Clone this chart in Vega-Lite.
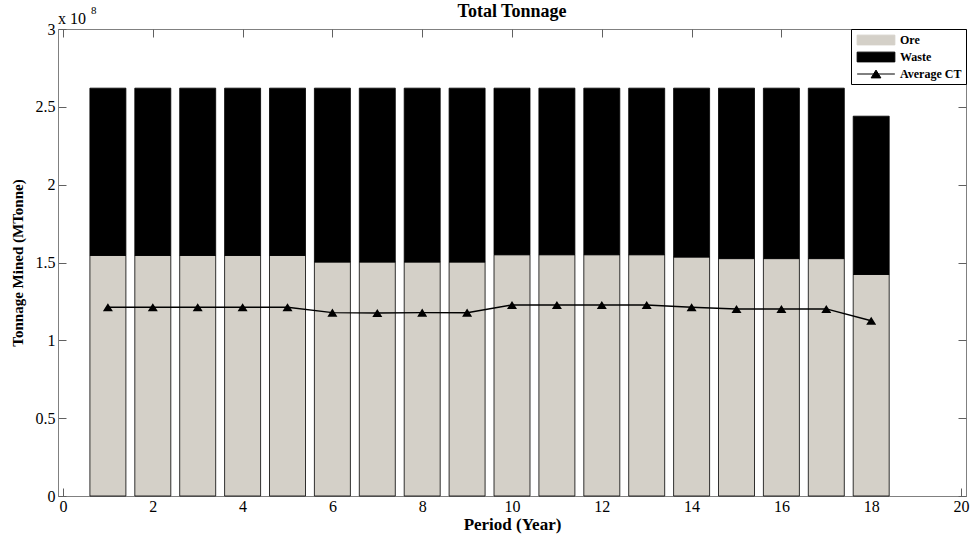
{
  "$schema": "https://vega.github.io/schema/vega-lite/v6.json",
  "width": 908,
  "height": 467,
  "autosize": "none",
  "padding": {"left": 58, "top": 29, "right": 11, "bottom": 41},
  "background": "white",
  "config": {
    "view": {"stroke": "#808080", "strokeWidth": 1},
    "axis": {"labelFont": "Times New Roman", "labelFontSize": 16, "labelColor": "black", "titleFont": "Times New Roman", "titleFontSize": 17, "titleFontWeight": "bold", "titleColor": "black", "domainColor": "#808080", "tickColor": "#606060", "grid": false},
    "legend": {"title": null, "orient": "top-right", "offset": 0, "direction": "vertical", "padding": 4, "strokeColor": "black", "fillColor": "white", "cornerRadius": 0,
               "labelFont": "Times New Roman", "labelFontWeight": "bold", "labelFontSize": 12, "labelColor": "black", "rowPadding": 3, "symbolSize": 169, "symbolOffset": 14, "labelOffset": 17, "symbolStrokeWidth": 1}
  },
  "resolve": {"axis": {"x": "independent", "y": "independent"}},
  "datasets": {
    "bars": [
      {"period": 1, "type": "Ore", "tonnage": 154500000},
      {"period": 1, "type": "Waste", "tonnage": 107500000},
      {"period": 2, "type": "Ore", "tonnage": 154500000},
      {"period": 2, "type": "Waste", "tonnage": 107500000},
      {"period": 3, "type": "Ore", "tonnage": 154500000},
      {"period": 3, "type": "Waste", "tonnage": 107500000},
      {"period": 4, "type": "Ore", "tonnage": 154500000},
      {"period": 4, "type": "Waste", "tonnage": 107500000},
      {"period": 5, "type": "Ore", "tonnage": 154500000},
      {"period": 5, "type": "Waste", "tonnage": 107500000},
      {"period": 6, "type": "Ore", "tonnage": 150300000},
      {"period": 6, "type": "Waste", "tonnage": 111700000},
      {"period": 7, "type": "Ore", "tonnage": 150300000},
      {"period": 7, "type": "Waste", "tonnage": 111700000},
      {"period": 8, "type": "Ore", "tonnage": 150300000},
      {"period": 8, "type": "Waste", "tonnage": 111700000},
      {"period": 9, "type": "Ore", "tonnage": 150300000},
      {"period": 9, "type": "Waste", "tonnage": 111700000},
      {"period": 10, "type": "Ore", "tonnage": 155000000},
      {"period": 10, "type": "Waste", "tonnage": 107000000},
      {"period": 11, "type": "Ore", "tonnage": 155000000},
      {"period": 11, "type": "Waste", "tonnage": 107000000},
      {"period": 12, "type": "Ore", "tonnage": 155000000},
      {"period": 12, "type": "Waste", "tonnage": 107000000},
      {"period": 13, "type": "Ore", "tonnage": 155000000},
      {"period": 13, "type": "Waste", "tonnage": 107000000},
      {"period": 14, "type": "Ore", "tonnage": 153500000},
      {"period": 14, "type": "Waste", "tonnage": 108500000},
      {"period": 15, "type": "Ore", "tonnage": 152500000},
      {"period": 15, "type": "Waste", "tonnage": 109500000},
      {"period": 16, "type": "Ore", "tonnage": 152500000},
      {"period": 16, "type": "Waste", "tonnage": 109500000},
      {"period": 17, "type": "Ore", "tonnage": 152500000},
      {"period": 17, "type": "Waste", "tonnage": 109500000},
      {"period": 18, "type": "Ore", "tonnage": 142300000},
      {"period": 18, "type": "Waste", "tonnage": 101700000}
    ],
    "ct": [
      {"period": 1, "type": "Average CT", "tonnage": 121300000},
      {"period": 2, "type": "Average CT", "tonnage": 121300000},
      {"period": 3, "type": "Average CT", "tonnage": 121300000},
      {"period": 4, "type": "Average CT", "tonnage": 121300000},
      {"period": 5, "type": "Average CT", "tonnage": 121300000},
      {"period": 6, "type": "Average CT", "tonnage": 117800000},
      {"period": 7, "type": "Average CT", "tonnage": 117500000},
      {"period": 8, "type": "Average CT", "tonnage": 117800000},
      {"period": 9, "type": "Average CT", "tonnage": 117800000},
      {"period": 10, "type": "Average CT", "tonnage": 122700000},
      {"period": 11, "type": "Average CT", "tonnage": 122700000},
      {"period": 12, "type": "Average CT", "tonnage": 122700000},
      {"period": 13, "type": "Average CT", "tonnage": 122700000},
      {"period": 14, "type": "Average CT", "tonnage": 121300000},
      {"period": 15, "type": "Average CT", "tonnage": 120200000},
      {"period": 16, "type": "Average CT", "tonnage": 120200000},
      {"period": 17, "type": "Average CT", "tonnage": 120200000},
      {"period": 18, "type": "Average CT", "tonnage": 112600000}
    ],
    "note": [{"title": "Total Tonnage", "base": "x 10", "exp": "8"}]
  },
  "layer": [
    {
      "data": {"name": "bars"},
      "mark": {"type": "bar", "width": 36, "stroke": "black", "strokeWidth": 0.8},
      "encoding": {
        "x": {"field": "period", "type": "quantitative", "scale": {"domain": [0, 20], "nice": false},
              "axis": {"values": [0, 2, 4, 6, 8, 10, 12, 14, 16, 18, 20], "title": "Period (Year)", "tickSize": -8, "labelPadding": 10, "titlePadding": 2, "labelBaseline": "top", "labelFlush": false}},
        "y": {"field": "tonnage", "type": "quantitative", "stack": "zero", "scale": {"domain": [0, 300000000], "nice": false},
              "axis": {"values": [0, 50000000, 100000000, 150000000, 200000000, 250000000, 300000000], "labelExpr": "datum.value / 100000000", "title": "Tonnage Mined (MTonne)", "titleFontSize": 15, "tickSize": -8, "labelPadding": 11, "titlePadding": 10}},
        "color": {"field": "type", "type": "nominal", "scale": {"domain": ["Ore", "Waste", "Average CT"], "range": ["#d4d0c8", "#000000", "#000000"]}},
        "order": {"field": "type", "sort": "ascending"}
      }
    },
    {
      "data": {"name": "ct"},
      "mark": {"type": "line", "strokeWidth": 1.5},
      "encoding": {
        "x": {"field": "period", "type": "quantitative",
              "axis": {"orient": "top", "values": [0, 2, 4, 6, 8, 10, 12, 14, 16, 18, 20], "labels": false, "title": null, "tickSize": -8, "domain": false}},
        "y": {"field": "tonnage", "type": "quantitative",
              "axis": {"orient": "right", "values": [0, 50000000, 100000000, 150000000, 200000000, 250000000, 300000000], "labels": false, "title": null, "tickSize": -8, "domain": false}},
        "color": {"field": "type", "type": "nominal"}
      }
    },
    {
      "data": {"name": "ct"},
      "mark": {"type": "point", "filled": true, "opacity": 1, "size": 178},
      "encoding": {
        "x": {"field": "period", "type": "quantitative", "axis": null},
        "y": {"field": "tonnage", "type": "quantitative", "axis": null},
        "color": {"field": "type", "type": "nominal"},
        "shape": {"field": "type", "type": "nominal", "scale": {"domain": ["Ore", "Waste", "Average CT"], "range": ["M-2.9,-0.75H2.9V0.75H-2.9Z", "M-2.9,-0.75H2.9V0.75H-2.9Z", "M-2.9,0H2.9M-0.75,0.6L0,-0.6L0.75,0.6Z"]}}
      }
    },
    {
      "data": {"name": "note"},
      "mark": {"type": "text", "font": "Times New Roman", "fontSize": 18, "fontWeight": "bold", "align": "center", "baseline": "alphabetic", "dy": -12, "color": "black"},
      "encoding": {"x": {"datum": 10, "type": "quantitative", "axis": null}, "y": {"datum": 300000000, "type": "quantitative", "axis": null}, "text": {"field": "title"}}
    },
    {
      "data": {"name": "note"},
      "mark": {"type": "text", "font": "Times New Roman", "fontSize": 16, "align": "left", "baseline": "alphabetic", "dx": -5, "dy": -5, "color": "black"},
      "encoding": {"x": {"datum": 0, "type": "quantitative", "axis": null}, "y": {"datum": 300000000, "type": "quantitative", "axis": null}, "text": {"field": "base"}}
    },
    {
      "data": {"name": "note"},
      "mark": {"type": "text", "font": "Times New Roman", "fontSize": 11, "align": "left", "baseline": "alphabetic", "dx": 28, "dy": -15, "color": "black"},
      "encoding": {"x": {"datum": 0, "type": "quantitative", "axis": null}, "y": {"datum": 300000000, "type": "quantitative", "axis": null}, "text": {"field": "exp"}}
    }
  ]
}
